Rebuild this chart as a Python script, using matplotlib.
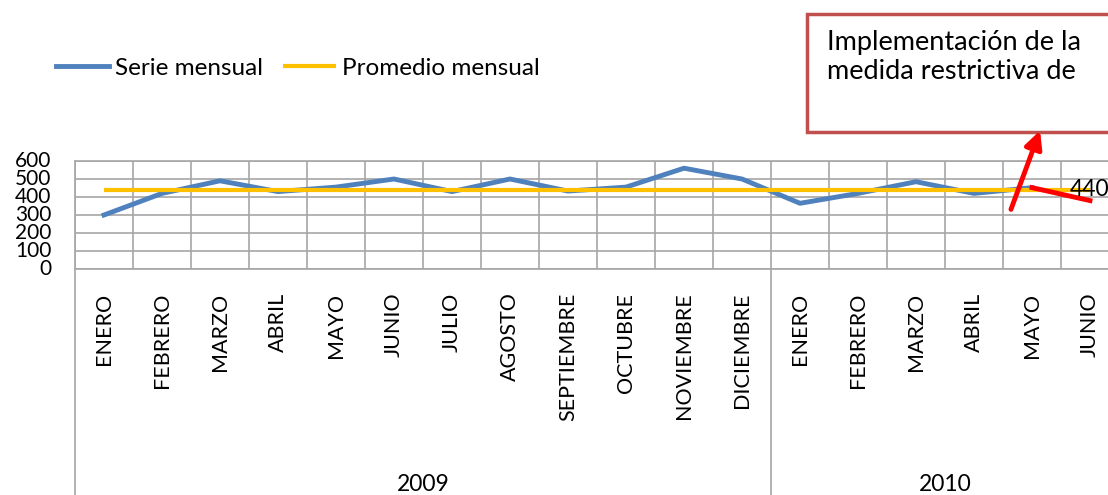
import matplotlib.pyplot as plt
from matplotlib.patches import Rectangle, FancyArrowPatch
import matplotlib.transforms as mtransforms

plt.rcParams['font.family'] = ['Lato', 'DejaVu Sans']

# monthly series, two years
meses = ['ENERO', 'FEBRERO', 'MARZO', 'ABRIL', 'MAYO', 'JUNIO', 'JULIO', 'AGOSTO',
         'SEPTIEMBRE', 'OCTUBRE', 'NOVIEMBRE', 'DICIEMBRE',
         'ENERO', 'FEBRERO', 'MARZO', 'ABRIL', 'MAYO', 'JUNIO']
anios = ['2009', '2010']
meses_por_anio = [12, 6]
serie = [300, 420, 490, 430, 455, 500, 430, 500, 433, 455, 560, 500,
         365, 420, 485, 420, 452, 380]
promedio = 440
promedio_serie = [promedio] * len(serie)

W, H = 1108, 495
fig = plt.figure(figsize=(W / 100, H / 100), dpi=100)

def px(x, y):
    # figure pixel (from top-left) -> figure fraction
    return x / W, 1 - y / H

left, top, bottom = 75, 161, 269
cell = 58
ax = fig.add_axes([left / W, 1 - bottom / H, len(serie) * cell / W, (bottom - top) / H])

x = list(range(len(serie)))
grid_c = '#a6a6a6'
ax.plot(x[:-1], serie[:-1], color='#4F81BD', lw=3.5, zorder=3, solid_joinstyle='round')
ax.plot(x, promedio_serie, color='#FFC000', lw=3.0, zorder=4, solid_capstyle='butt')
ax.plot(x[-2:], serie[-2:], color='#FF0000', lw=3.5, zorder=5)

ax.set_xlim(-0.5, len(serie) - 0.5)
ax.set_ylim(0, 600)
ax.set_yticks(range(0, 601, 100))
ax.set_xticks(x)
ax.set_xticklabels(meses, rotation=90, fontsize=15.5, va='top')
ax.tick_params(axis='x', length=0, pad=17)
ax.tick_params(axis='y', length=0, pad=17, labelsize=15)
for lbl in ax.get_yticklabels():
    lbl.set_verticalalignment('center')
ax.set_xticks([k - 0.5 for k in range(len(serie) + 1)], minor=True)
ax.tick_params(axis='x', which='minor', length=0)
ax.grid(True, which='minor', axis='x', color=grid_c, lw=1.2)
ax.grid(True, which='major', axis='y', color=grid_c, lw=1.2)
for s in ax.spines.values():
    s.set_color(grid_c)
    s.set_linewidth(1.2)
ax.set_axisbelow(True)

# data label on the average
ax.text(x[-1], promedio, str(promedio), ha='center', va='center', fontsize=16.5, zorder=6)

# category area below the axis: separators and year labels
trans = mtransforms.blended_transform_factory(ax.transData, ax.transAxes)
depth = -(H - bottom) / (bottom - top) - 0.1
start = 0
for n, anio in zip(meses_por_anio, anios):
    ax.plot([start - 0.5, start - 0.5], [0, depth], transform=trans, color=grid_c,
            lw=1.2, clip_on=False)
    ax.text(start - 0.5 + n / 2, -(474 - bottom) / (bottom - top), anio, transform=trans,
            ha='center', va='top', fontsize=16.5)
    start += n

# legend
fig.legend(handles=ax.lines[0:1] + ax.lines[1:2], labels=['Serie mensual', 'Promedio mensual'],
           loc='center left', bbox_to_anchor=px(34, 68), ncol=2, frameon=False,
           fontsize=17.5, handlelength=2.2, handletextpad=0.25, columnspacing=0.8)

# annotation box
bx0, by0, bx1, by1 = 807, 14, 1130, 132
fig.patches.append(Rectangle(px(bx0, by1), (bx1 - bx0) / W, (by1 - by0) / H,
                             transform=fig.transFigure, facecolor='white',
                             edgecolor='#C0504D', lw=2.5))
fig.text(*px(827, 30), 'Implementación de la\nmedida restrictiva de', va='top', ha='left',
         fontsize=19.5, linespacing=1.2)

arrow = FancyArrowPatch(px(1010, 212), px(1041, 128), transform=fig.transFigure,
                        arrowstyle='-|>', mutation_scale=26, color='#FF0000', lw=3.5)
fig.patches.append(arrow)

fig.savefig('out.png', dpi=100)
